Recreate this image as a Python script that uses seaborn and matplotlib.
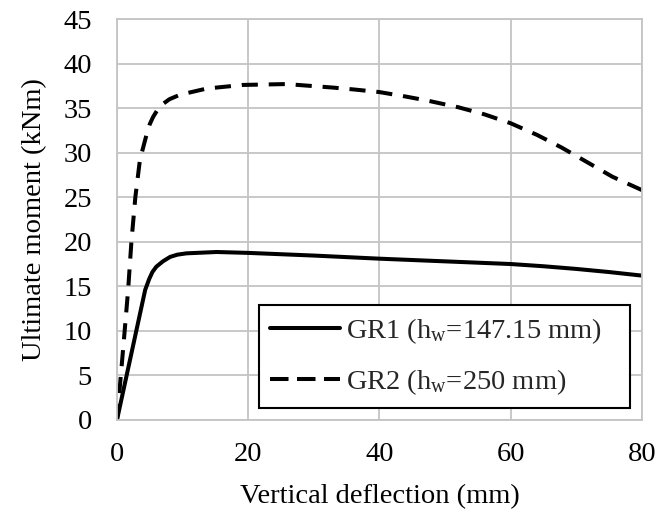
import matplotlib
matplotlib.use("Agg")
import matplotlib.pyplot as plt
import seaborn as sns
import pandas as pd

# ---- data ----
gr1_x = [0, 4.3, 4.9, 5.4, 6.0, 7.0, 8.1, 9.2, 10.6, 15.2, 20, 30, 40, 50, 60, 65, 70, 75, 80]
gr1_y = [0, 14.6, 15.8, 16.6, 17.2, 17.8, 18.3, 18.55, 18.7, 18.85, 18.75, 18.45, 18.1,
         17.8, 17.5, 17.25, 16.95, 16.6, 16.2]

gr2_x = [0, 1.0, 1.7, 2.2, 2.8, 3.5, 4.5, 5.0, 5.5, 6.5, 8, 9.6, 13.7, 19.2, 25.8, 33, 36,
         40, 44, 47.6, 52, 56, 60, 64, 67.7, 71.5, 75.5, 80]
gr2_y = [0, 8.5, 14.6, 20.0, 25.0, 29.2, 32.0, 33.2, 34.0, 35.2, 36.0, 36.5, 37.2, 37.6,
         37.7, 37.3, 37.1, 36.8, 36.3, 35.8, 35.1, 34.3, 33.3, 32.0, 30.6, 29.0, 27.3, 25.8]

labels = ["GR1 (h$_\\mathregular{w}$=147.15 mm)", "GR2 (h$_\\mathregular{w}$=250 mm)"]
x_ticks = [0, 20, 40, 60, 80]
y_ticks = [0, 5, 10, 15, 20, 25, 30, 35, 40, 45]

sns.set_theme(style="white")
plt.rcParams["font.family"] = ["Liberation Serif", "DejaVu Serif"]
plt.rcParams["mathtext.fontset"] = "custom"
plt.rcParams["mathtext.rm"] = "Liberation Serif"
plt.rcParams["mathtext.it"] = "Liberation Serif:italic"

df1 = pd.DataFrame({"x": gr1_x, "y": gr1_y})
df2 = pd.DataFrame({"x": gr2_x, "y": gr2_y})

fig = plt.figure(figsize=(6.59, 5.14), dpi=100)
ax = fig.add_axes([0.1775, 0.183, 0.7965, 0.780])

grid_c = "#c4c4c4"
lw = 2.9
sns.lineplot(data=df1, x="x", y="y", ax=ax, sort=False, color="black",
             linewidth=lw, label=labels[0])
sns.lineplot(data=df2, x="x", y="y", ax=ax, sort=False, color="black",
             linewidth=lw, label=labels[1])
ax.lines[0].set_solid_joinstyle("round")
ax.lines[1].set_dashes((4.0, 2.7))
ax.lines[1].set_dash_capstyle("butt")

ax.set_xlim(0, 80)
ax.set_ylim(0, 45)
ax.set_xticks(x_ticks)
ax.set_yticks(y_ticks)
ax.grid(True, color=grid_c, linewidth=1.3)
ax.set_axisbelow(True)
for s in ax.spines.values():
    s.set_color(grid_c)
    s.set_linewidth(1.3)

fs = 20.5
ax.tick_params(axis="both", length=0, labelsize=fs, colors="black")
ax.tick_params(axis="y", pad=18)
ax.tick_params(axis="x", pad=16)
ax.set_xlabel("Vertical deflection (mm)", fontsize=fs, labelpad=12, color="black")
ax.set_ylabel("Ultimate moment (kNm)", fontsize=fs, labelpad=12, color="black")

leg = ax.legend(loc="lower left", bbox_to_anchor=(0.27, 0.03, 0.707, 0.25),
                mode="expand", fontsize=fs, frameon=True, fancybox=False,
                edgecolor="black", framealpha=1, handlelength=2.45,
                handletextpad=0.2, borderpad=0.4, labelspacing=0.72,
                borderaxespad=0)
leg.get_frame().set_linewidth(1.5)
for h in leg.get_lines():
    h.set_linewidth(lw)
leg.get_lines()[1].set_dashes((4.6, 2.1))

fig.savefig("out.png", dpi=100)
